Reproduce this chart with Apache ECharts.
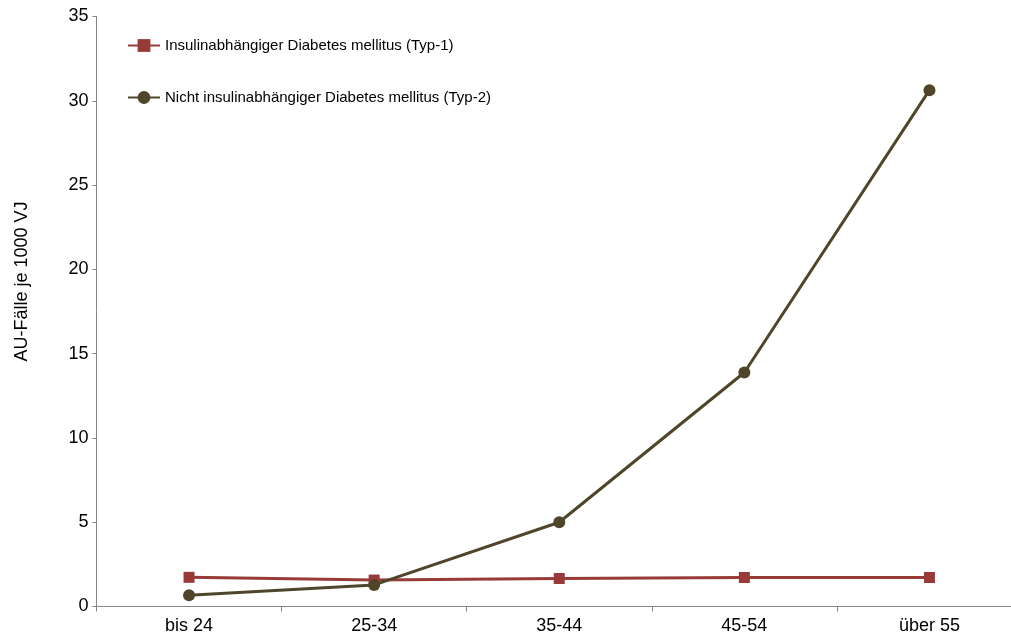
<!DOCTYPE html>
<html><head><meta charset="utf-8">
<script src="https://cdn.jsdelivr.net/npm/echarts@6/dist/echarts.min.js"></script>
<style>html,body{margin:0;padding:0;background:#fff;overflow:hidden}#c{width:1022px;height:639px}</style>
</head><body><div id="c"></div>
<script>
const categories = ['bis 24', '25-34', '35-44', '45-54', 'über 55'];
const typ1 = [1.73, 1.57, 1.66, 1.72, 1.72];
const typ2 = [0.67, 1.28, 5.0, 13.88, 30.63];
const seriesNames = ['Insulinabhängiger Diabetes mellitus (Typ-1)', 'Nicht insulinabhängiger Diabetes mellitus (Typ-2)'];
const yTicks = { min: 0, max: 35, interval: 5 };

const chart = echarts.init(document.getElementById('c'), null, { renderer: 'canvas' });
const font = 'Liberation Sans, Arial, sans-serif';
chart.setOption({
  animation: false,
  textStyle: { fontFamily: font },
  grid: { left: 96.5, top: 16.5, right: 0, bottom: 32.5, containLabel: false },
  legend: {
    orient: 'vertical', left: 122, top: 33, itemGap: 37,
    itemWidth: 32, itemHeight: 16,
    textStyle: { fontSize: 15, color: '#000', fontFamily: font },
    data: [seriesNames[0], seriesNames[1]]
  },
  xAxis: {
    type: 'category', data: categories, boundaryGap: true,
    axisLine: { lineStyle: { color: '#868686', width: 1 } },
    axisTick: { show: true, length: 5, alignWithLabel: false, lineStyle: { color: '#868686' } },
    axisLabel: { fontSize: 18, color: '#000', margin: 11, fontFamily: font },
    splitLine: { show: false }
  },
  yAxis: {
    type: 'value', min: yTicks.min, max: yTicks.max, interval: yTicks.interval,
    name: 'AU-Fälle je 1000 VJ', nameLocation: 'middle', nameGap: 65,
    nameTextStyle: { fontSize: 18, color: '#000', fontFamily: font, padding: [0, 0, 0, 60] },
    axisLine: { show: true, lineStyle: { color: '#868686', width: 1 } },
    axisTick: { show: true, length: 4, lineStyle: { color: '#868686' } },
    axisLabel: { fontSize: 18, color: '#000', margin: 8, fontFamily: font },
    splitLine: { show: false }
  },
  series: [
    {
      name: seriesNames[0], type: 'line', data: typ1,
      symbol: 'rect', symbolSize: 11,
      lineStyle: { color: '#983A38', width: 3 },
      itemStyle: { color: '#983A38' }
    },
    {
      name: seriesNames[1], type: 'line', data: typ2,
      symbol: 'circle', symbolSize: 12,
      lineStyle: { color: '#4F4629', width: 3 },
      itemStyle: { color: '#4F4629' }
    }
  ]
});
</script></body></html>
